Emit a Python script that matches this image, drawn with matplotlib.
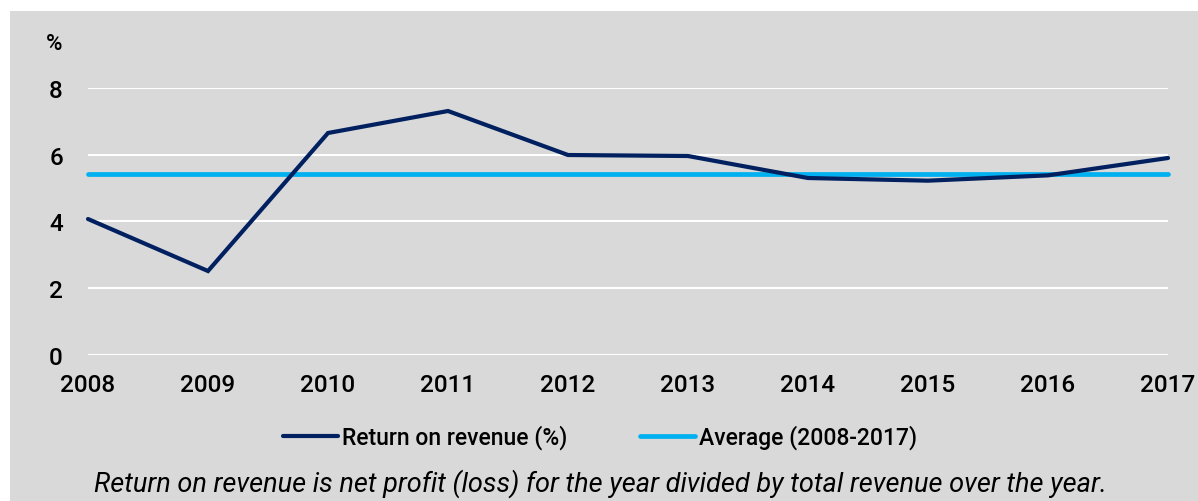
import matplotlib
matplotlib.use("Agg")
import matplotlib.pyplot as plt
from matplotlib.patches import Rectangle

years = [2008, 2009, 2010, 2011, 2012, 2013, 2014, 2015, 2016, 2017]
return_on_revenue = [4.07, 2.51, 6.65, 7.31, 5.99, 5.96, 5.30, 5.22, 5.38, 5.90]
average = 5.43
y_ticks = [0, 2, 4, 6, 8]

navy = "#002060"
light_blue = "#00b0f0"
grey = "#d9d9d9"

plt.rcParams['font.family'] = ['Roboto', 'DejaVu Sans']
plt.rcParams['font.weight'] = 'medium'

W, H = 1198, 502
fig = plt.figure(figsize=(W / 100, H / 100), dpi=100)
fig.patches.append(Rectangle((10 / W, 0), 1 - 10 / W, (H - 12) / H,
                             transform=fig.transFigure, facecolor=grey,
                             edgecolor='none', zorder=-10))

ax = fig.add_axes([88 / W, (H - 355.7) / H, (1168 - 88) / W, (355.7 - 89) / H])
ax.set_facecolor('none')

ax.plot(years, [average] * len(years), color=light_blue, lw=3.4,
        solid_capstyle='round', clip_on=False, zorder=3)
ax.plot(years, return_on_revenue, color=navy, lw=3.0,
        solid_capstyle='round', solid_joinstyle='miter', clip_on=False, zorder=4)

ax.set_xlim(2008, 2017)
ax.set_ylim(0, 8)
ax.set_yticks(y_ticks)
ax.set_xticks(years)
ax.grid(axis='y', color='white', lw=1.5, zorder=1)
ax.set_axisbelow(True)
for s in ax.spines.values():
    s.set_visible(False)
ax.tick_params(axis='both', length=0, labelsize=17.5, colors='black')
ax.tick_params(axis='y', pad=18)
ax.tick_params(axis='x', pad=13)

fig.text(46 / W, (H - 45) / H, '%', fontsize=16, va='center', ha='left')

fig.legend(handles=ax.lines[::-1],
           labels=['Return on revenue (%)', 'Average (2008-2017)'],
           loc='center', bbox_to_anchor=(600 / W, (H - 438) / H), ncol=2,
           frameon=False, fontsize=16.5, handlelength=2.4, handletextpad=0.15,
           columnspacing=3.2)

fig.text(600 / W, (H - 484) / H,
         'Return on revenue is net profit (loss) for the year divided by total revenue over the year.',
         fontsize=19.5, style='italic', fontweight='normal', ha='center', va='center')

fig.savefig('out.png', dpi=100)
